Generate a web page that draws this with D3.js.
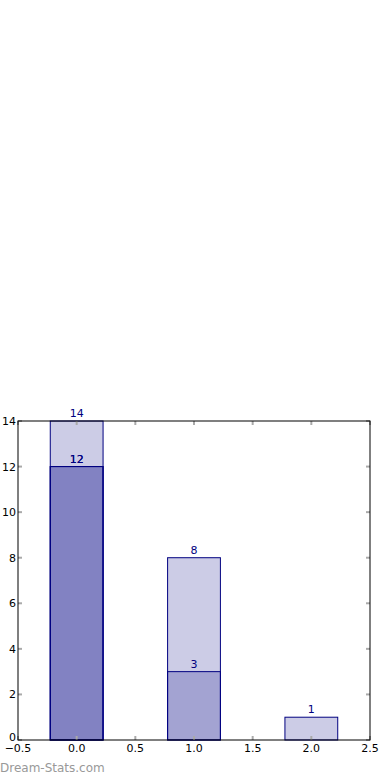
<!DOCTYPE html>
<html>
<head>
<meta charset="utf-8">
<script src="https://cdn.jsdelivr.net/npm/d3@7"></script>
<style>
  body { margin: 0; background: #fff; }
  text { font-family: "DejaVu Sans", sans-serif; }
</style>
</head>
<body>
<script>
const positions = [0, 1, 2]
// three overlapping translucent layers, same navy colour
const layerA = [14, 8, 1]
const layerB = [12, 3, 0]
const layerC = [12, 0, 0]
const layers = [layerA, layerB, layerC]
const xTicks = [-0.5, 0.0, 0.5, 1.0, 1.5, 2.0, 2.5]
const yTicks = [0, 2, 4, 6, 8, 10, 12, 14]

const W = 390, H = 780
const plotLeft = 18, plotRight = 370, plotTop = 421, plotBottom = 740
const barWidth = 0.45

const svg = d3.select('body').append('svg')
  .attr('width', W)
  .attr('height', H)

const x = d3.scaleLinear().domain([-0.5, 2.5]).range([plotLeft, plotRight])
const y = d3.scaleLinear().domain([0, 14]).range([plotBottom, plotTop])

// bars
layers.forEach(vals => {
  const rows = positions.map((p, i) => ({ p, v: vals[i] })).filter(d => d.v > 0)
  svg.append('g').selectAll('rect')
    .data(rows)
    .enter().append('rect')
    .attr('x', d => x(d.p - barWidth / 2))
    .attr('y', d => y(d.v))
    .attr('width', d => x(d.p + barWidth / 2) - x(d.p - barWidth / 2))
    .attr('height', d => y(0) - y(d.v))
    .attr('fill', 'navy')
    .attr('fill-opacity', 0.2)
    .attr('stroke', 'navy')
    .attr('stroke-width', 1)

  svg.append('g').selectAll('text')
    .data(rows)
    .enter().append('text')
    .attr('x', d => x(d.p))
    .attr('y', d => y(d.v) - 4)
    .attr('text-anchor', 'middle')
    .attr('font-size', '11px')
    .attr('fill', 'navy')
    .text(d => d.v)
})

// tick marks (grey, inside the frame, on all four sides)
const tickColor = '#aaa'
const tickLen = 4
xTicks.forEach(t => {
  svg.append('line')
    .attr('x1', x(t)).attr('x2', x(t))
    .attr('y1', plotBottom).attr('y2', plotBottom - tickLen)
    .attr('stroke', tickColor).attr('stroke-width', 2)
  svg.append('line')
    .attr('x1', x(t)).attr('x2', x(t))
    .attr('y1', plotTop).attr('y2', plotTop + tickLen)
    .attr('stroke', tickColor).attr('stroke-width', 2)
})
yTicks.forEach(t => {
  svg.append('line')
    .attr('x1', plotLeft).attr('x2', plotLeft + tickLen)
    .attr('y1', y(t)).attr('y2', y(t))
    .attr('stroke', tickColor).attr('stroke-width', 2)
  svg.append('line')
    .attr('x1', plotRight).attr('x2', plotRight - tickLen)
    .attr('y1', y(t)).attr('y2', y(t))
    .attr('stroke', tickColor).attr('stroke-width', 2)
})

// frame
svg.append('rect')
  .attr('x', plotLeft).attr('y', plotTop)
  .attr('width', plotRight - plotLeft).attr('height', plotBottom - plotTop)
  .attr('fill', 'none')
  .attr('stroke', '#000')
  .attr('stroke-width', 1)

// tick labels
svg.append('g').selectAll('text')
  .data(xTicks)
  .enter().append('text')
  .attr('x', d => x(d))
  .attr('y', plotBottom + 12)
  .attr('text-anchor', 'middle')
  .attr('font-size', '11px')
  .attr('fill', '#000')
  .text(d => d3.format('.1f')(d).replace('-', '\u2212'))

svg.append('g').selectAll('text')
  .data(yTicks)
  .enter().append('text')
  .attr('x', plotLeft - 2)
  .attr('y', d => y(d) + (d === 0 ? 1 : 4))
  .attr('text-anchor', 'end')
  .attr('font-size', '11px')
  .attr('fill', '#000')
  .text(d => d)

// watermark
svg.append('text')
  .attr('x', 0)
  .attr('y', 772)
  .attr('font-size', '12px')
  .attr('fill', '#999')
  .text('Dream-Stats.com')
</script>
</body>
</html>
